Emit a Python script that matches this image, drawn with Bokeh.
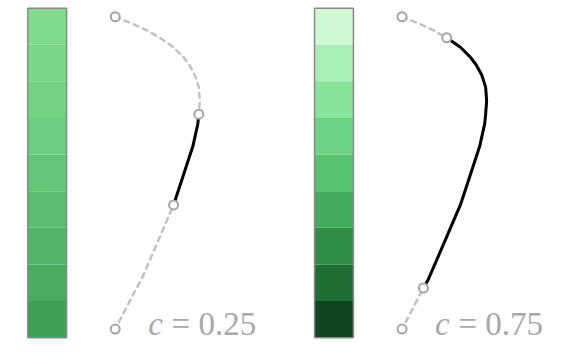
from bokeh.plotting import figure
from bokeh.models import Range1d
from bokeh.embed import file_html
from bokeh.resources import INLINE
from bokeh.core.properties import value

# ---- data ----
labels = ["0.25", "0.75"]
# colour segments of each bar (top -> bottom)
colors_c025 = ["#7fdc8d", "#79d888", "#73d383", "#6bcd7d", "#63c676",
               "#5bbe6e", "#52b566", "#49ab5d", "#40a154"]
colors_c075 = ["#cff8d5", "#a8efb6", "#88e39b", "#6dd484", "#57c36e",
               "#43ab5a", "#2f8f46", "#1f6e33", "#0f4520"]
# curve shape (relative to its start point, y downward)
curve_dx = [0, 17, 32, 46, 60, 70, 76, 82, 86, 87, 86, 85, 80, 71, 60, 44, 27, 22, 0]
curve_dy = [0, 7, 14, 22, 32, 42, 50, 61, 74, 88, 102, 112, 135, 163, 197, 235, 275, 284, 327]
# index range of the highlighted part for each c
hl_start = [10, 3]
hl_end = [14, 17]

# ---- layout (figure fits the 577x357 window with its 8px margin) ----
W, H = 561, 341
p = figure(width=W, height=H, output_backend="svg", toolbar_location=None,
           x_range=Range1d(0, 577), y_range=Range1d(357, 0),
           min_border=0)
p.axis.visible = False
p.grid.visible = False
p.outline_line_color = None
p.background_fill_color = "white"

panel_x = [0, 295]
bar_left, bar_w = 28, 40
bar_top, bar_bot = 8, 353
cx0, cy0 = 118, 17

for k, (lab, cols) in enumerate(zip(labels, [colors_c025, colors_c075])):
    ox = panel_x[k]
    n = len(cols)
    seg = (bar_bot - bar_top) / n
    tops = [bar_top + i * seg for i in range(n)]
    bots = [bar_top + (i + 1) * seg for i in range(n)]
    p.quad(left=[ox + bar_left] * n, right=[ox + bar_left + bar_w] * n,
           top=tops, bottom=bots, fill_color=cols, line_color=None)
    p.quad(left=[ox + bar_left], right=[ox + bar_left + bar_w],
           top=[bar_top], bottom=[bar_bot], fill_alpha=0,
           line_color="#8a8a8a", line_width=1.5)

    xs = [ox + cx0 + d for d in curve_dx]
    ys = [cy0 + d for d in curve_dy]
    p.line(xs, ys, line_color="#c2c2c2", line_width=2.5, line_dash="5 5",
           line_cap="round")
    s, e = hl_start[k], hl_end[k]
    p.line(xs[s:e + 1], ys[s:e + 1], line_color="black", line_width=3,
           line_join="round", line_cap="round")
    idx = [0, s, e, len(xs) - 1]
    p.scatter([xs[i] for i in idx], [ys[i] for i in idx], size=9,
              fill_color="white", line_color="#a5a5a5", line_width=2)

    p.text([ox + 152], [339], text=["c"], text_font=value("Liberation Serif"),
           text_font_style="italic", text_font_size="33px",
           text_color="#a8a8a8", text_baseline="alphabetic")
    p.text([ox + 176], [339], text=["= " + lab],
           text_font=value("Liberation Serif"), text_font_size="33px",
           text_color="#a8a8a8", text_baseline="alphabetic")

open("out.html", "w").write(file_html(p, INLINE))
